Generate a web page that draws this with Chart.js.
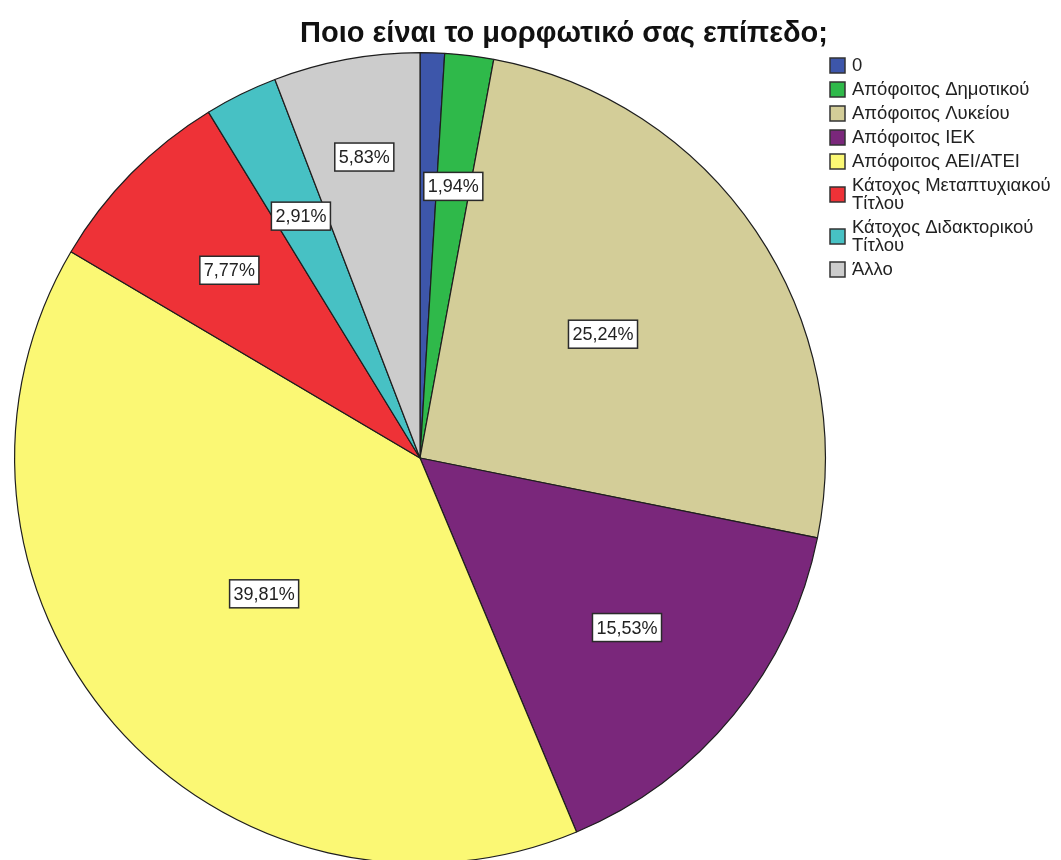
<!DOCTYPE html>
<html>
<head>
<meta charset="utf-8">
<script src="https://cdn.jsdelivr.net/npm/chart.js@4.4.0/dist/chart.umd.min.js"></script>
<style>
  html, body { margin: 0; padding: 0; background: #fff; overflow: hidden; }
  #pie { display: block; }
</style>
</head>
<body>
<canvas id="pie" width="1061" height="920"></canvas>
<script>
const titleText = "Ποιο είναι το μορφωτικό σας επίπεδο;";
const categories = [
    "0",
    "Απόφοιτος Δημοτικού",
    "Απόφοιτος Λυκείου",
    "Απόφοιτος ΙΕΚ",
    "Απόφοιτος ΑΕΙ/ΑΤΕΙ",
    "Κάτοχος Μεταπτυχιακού Τίτλου",
    "Κάτοχος Διδακτορικού Τίτλου",
    "Άλλο"
];
const counts = [1, 2, 26, 16, 41, 8, 3, 6];
const sliceColors = ["#3d56aa", "#2fb94a", "#d3cd98", "#7a277b", "#fbf874", "#ee3237", "#47c1c4", "#cccccc"];
// how far out (fraction of radius) each percentage box sits; null = no box
const labelDist = [null, 0.675, 0.545, 0.66, 0.51, 0.66, 0.665, 0.755];

const FONT = "'Liberation Sans', Arial, sans-serif";
const total = counts.reduce((a, b) => a + b, 0);

function pctText(v) {
    return (v / total * 100).toFixed(2).replace(".", ",") + "%";
}

// percentage boxes on the slices
const sliceLabels = {
    id: "sliceLabels",
    afterDatasetsDraw(chart) {
        const ctx = chart.ctx;
        const meta = chart.getDatasetMeta(0);
        ctx.save();
        ctx.font = "18px " + FONT;
        ctx.textAlign = "center";
        ctx.textBaseline = "middle";
        meta.data.forEach((arc, i) => {
            if (labelDist[i] == null) return;
            const p = arc.getProps(["x", "y", "startAngle", "endAngle", "outerRadius"], true);
            const mid = (p.startAngle + p.endAngle) / 2;
            const r = p.outerRadius * labelDist[i];
            const x = p.x + Math.cos(mid) * r;
            const y = p.y + Math.sin(mid) * r;
            const txt = pctText(counts[i]);
            const w = ctx.measureText(txt).width + 8;
            const h = 28;
            ctx.fillStyle = "#ffffff";
            ctx.fillRect(x - w / 2, y - h / 2, w, h);
            ctx.strokeStyle = "#2a2a2a";
            ctx.lineWidth = 1.5;
            ctx.strokeRect(x - w / 2, y - h / 2, w, h);
            ctx.fillStyle = "#222";
            ctx.fillText(txt, x, y + 1);
        });
        ctx.restore();
    }
};

// title + legend on the right, drawn by hand so long names can wrap
const titleAndLegend = {
    id: "titleAndLegend",
    afterDraw(chart) {
        const ctx = chart.ctx;
        ctx.save();
        ctx.fillStyle = "#111";
        ctx.font = "bold 29px " + FONT;
        ctx.textAlign = "center";
        ctx.textBaseline = "alphabetic";
        ctx.fillText(titleText, 564, 42);

        ctx.font = "18.5px " + FONT;
        ctx.textAlign = "left";
        ctx.textBaseline = "middle";
        const boxX = 830, textX = 852, maxW = 208;
        let y = 65;
        categories.forEach((name, i) => {
            // wrap on words
            const words = name.split(" ");
            const lines = [];
            let cur = "";
            words.forEach(w => {
                const t = cur ? cur + " " + w : w;
                if (cur && ctx.measureText(t).width > maxW) {
                    lines.push(cur);
                    cur = w;
                } else {
                    cur = t;
                }
            });
            lines.push(cur);
            const lineH = 18;
            const boxY = y + (lines.length - 1) * lineH / 2;
            ctx.fillStyle = sliceColors[i];
            ctx.fillRect(boxX, boxY - 7, 15, 15);
            ctx.strokeStyle = "#333";
            ctx.lineWidth = 1.5;
            ctx.strokeRect(boxX, boxY - 7, 15, 15);
            ctx.fillStyle = "#222";
            lines.forEach((ln, k) => ctx.fillText(ln, textX, y + k * lineH + 1));
            y += 24 + (lines.length - 1) * lineH;
        });
        ctx.restore();
    }
};

new Chart(document.getElementById("pie"), {
    type: "pie",
    data: {
        labels: categories,
        datasets: [{
            data: counts,
            backgroundColor: sliceColors,
            borderColor: "#1e1e1e",
            borderWidth: 1.2,
            hoverOffset: 0
        }]
    },
    options: {
        responsive: false,
        animation: false,
        layout: { padding: { left: 14, right: 235, top: 52, bottom: 56 } },
        plugins: {
            legend: { display: false },
            title: { display: false },
            tooltip: { enabled: false }
        }
    },
    plugins: [sliceLabels, titleAndLegend]
});
</script>
</body>
</html>
